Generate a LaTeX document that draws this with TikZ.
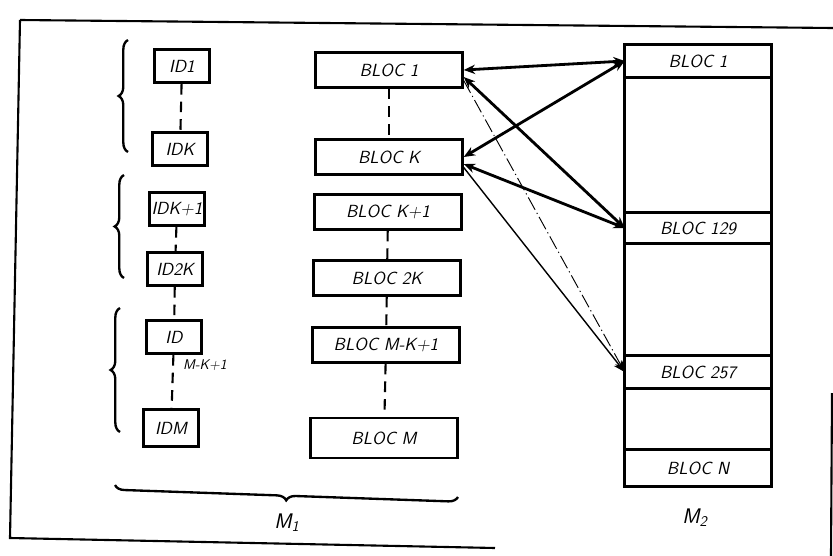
\documentclass[tikz,border=0pt]{standalone}
\usepackage{tikz}
\usetikzlibrary{positioning,arrows.meta,decorations.pathreplacing}

\begin{document}
\begin{tikzpicture}[x=0.03cm,y=-0.03cm,>={Stealth[length=3.4mm,width=2.8mm]},line width=2.4pt,
  font=\sffamily\itshape\fontsize{15}{17}\selectfont,
  idbox/.style={draw,minimum width=1.65cm,minimum height=1cm,inner sep=1pt},
  blocbox/.style={draw,minimum width=4.4cm,minimum height=1.05cm,inner sep=1pt},
  cell/.style={draw,minimum width=4.4cm,minimum height=1cm,inner sep=1pt,outer sep=0pt},
  link/.style={line width=1.8pt,dash pattern=on 9pt off 6pt},
  brc/.style={decorate,decoration={brace,amplitude=8pt},line width=2pt}]
\useasboundingbox (0,0) rectangle (833,556);
\draw[line width=1.8pt] (20,20) -- (833,28);
\draw[line width=1.8pt] (20,20) -- (10,538) -- (495,548);
\draw[line width=1.8pt] (832,393) -- (831,556);
\node[idbox] (id1) at (182,66) {ID1};
\node[idbox] (idK) at (180,149) {IDK};
\node[idbox] (idK1) at (177,209) {IDK+1};
\node[idbox] (id2K) at (175,269) {ID2K};
\node[idbox] (idMK) at (174,337) {ID};
\node[idbox,minimum height=1.1cm] (idM) at (171,428) {IDM};
\node[font=\sffamily\itshape\fontsize{12}{14}\selectfont] (mk1) at (205,365) {M-K+1};
\node[blocbox] (b1) at (389,70) {BLOC 1};
\node[blocbox] (bK) at (389,157) {BLOC K};
\node[blocbox] (bK1) at (388,212) {BLOC K+1};
\node[blocbox] (b2K) at (387,278) {BLOC 2K};
\node[blocbox] (bMK) at (386,345) {BLOC M-K+1};
\node[blocbox,minimum height=1.2cm] (bM) at (384,438) {BLOC M};
\node[cell] (c1) at (698,61) {BLOC 1};
\node[cell,minimum height=0.93cm] (c129) at (698,228) {BLOC 129};
\node[cell] (c257) at (698,372) {BLOC 257};
\node[cell,minimum height=1.1cm] (cN) at (698,468) {BLOC N};
\draw (c1.north west) rectangle (cN.south east);
\node[font=\sffamily\itshape\fontsize{18}{20}\selectfont] (m1) at (287,523) {M\textsubscript{1}};
\node[font=\sffamily\itshape\fontsize{18}{20}\selectfont] (m2) at (695,518) {M\textsubscript{2}};
\draw[link] (id1) -- (idK);
\draw[link] (idK1) -- (id2K);
\draw[link] (id2K) -- (idMK);
\draw[link] (idMK) -- (idM);
\draw[link] (b1) -- (bK);
\draw[link] (bK1) -- (b2K);
\draw[link] (b2K) -- (bMK);
\draw[link] (bMK) -- (bM);
\draw[brc] (128,152) -- (128,40);
\draw[brc] (124,278) -- (124,175);
\draw[brc] (120,432) -- (120,308);
\draw[brc] (458,497) -- (115,485);
\draw[<->] (b1.east) -- (c1.west);
\draw[<->] (bK.east) -- (c1.west);
\draw[<->] ([yshift=-6pt]b1.east) -- (c129.west);
\draw[<->] ([yshift=-6pt]bK.east) -- (c129.west);
\draw[->,line width=0.8pt,dash pattern=on 12pt off 3pt on 1pt off 3pt] ([yshift=-9pt]b1.east) -- (c257.west);
\draw[->,line width=1.2pt] ([yshift=-9pt]bK.east) -- (c257.west);
\end{tikzpicture}
\end{document}
